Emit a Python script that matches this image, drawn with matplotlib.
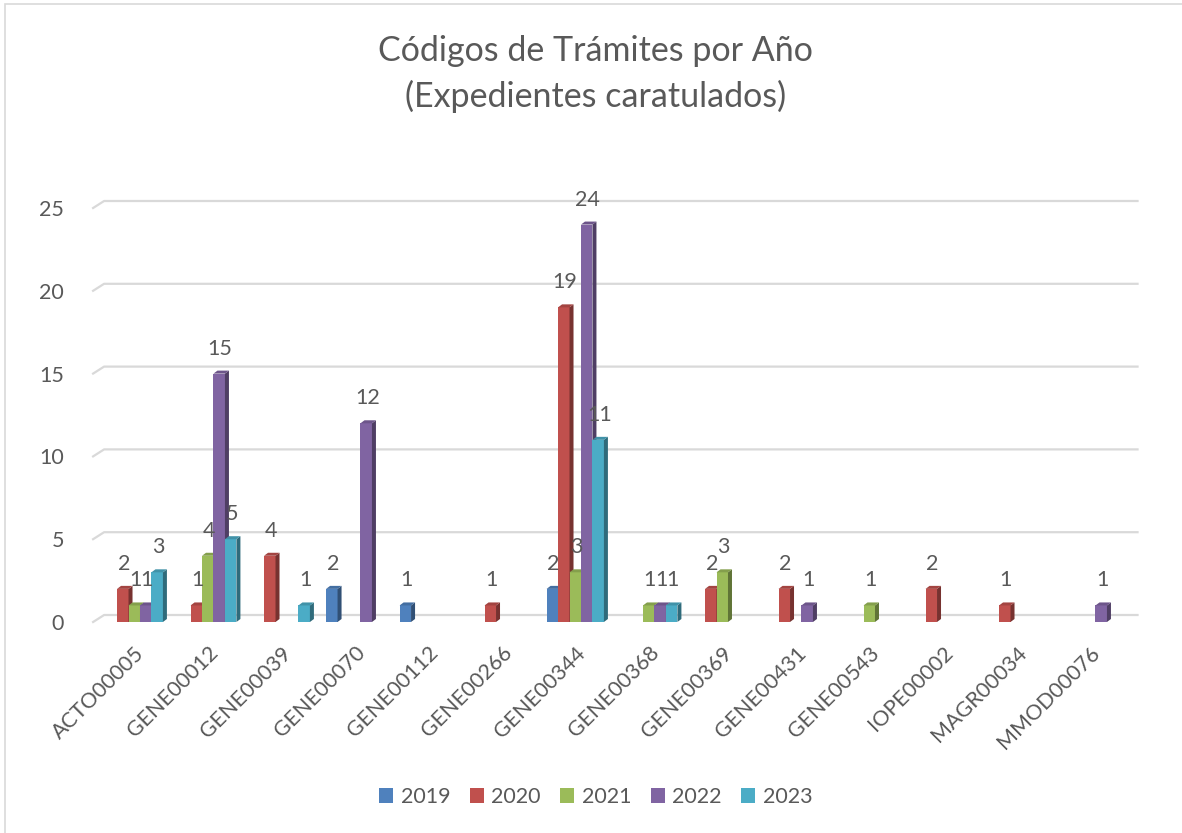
import numpy as np
import matplotlib.pyplot as plt
from matplotlib.patches import Polygon, Patch, Rectangle
from matplotlib.lines import Line2D
from matplotlib.colors import to_rgb

plt.rcParams['font.family'] = ['Lato', 'DejaVu Sans']

# ── Datos ──
codigos = ['ACTO00005', 'GENE00012', 'GENE00039', 'GENE00070', 'GENE00112',
           'GENE00266', 'GENE00344', 'GENE00368', 'GENE00369', 'GENE00431',
           'GENE00543', 'IOPE00002', 'MAGR00034', 'MMOD00076']
anios = ['2019', '2020', '2021', '2022', '2023']

v2019 = [0, 0, 0, 2, 1, 0, 2, 0, 0, 0, 0, 0, 0, 0]
v2020 = [2, 1, 4, 0, 0, 1, 19, 0, 2, 2, 0, 2, 1, 0]
v2021 = [1, 4, 0, 0, 0, 0, 3, 1, 3, 0, 1, 0, 0, 0]
v2022 = [1, 15, 0, 12, 0, 0, 24, 1, 0, 1, 0, 0, 0, 1]
v2023 = [3, 5, 1, 0, 0, 0, 11, 1, 0, 0, 0, 0, 0, 0]

series = [v2019, v2020, v2021, v2022, v2023]
colores = ['#4F81BD', '#C0504D', '#9BBB59', '#8064A2', '#4BACC6']
gris = '#595959'
fs = 15.5

W, H = 1182, 833
fig = plt.figure(figsize=(W / 100, H / 100), dpi=100)
ax_left, ax_bottom, ax_w, ax_h = 97.5 / W, 1 - 622 / H, 1029 / W, 414 / H
ax = fig.add_axes([ax_left, ax_bottom, ax_w, ax_h])

n = len(codigos)
ymax = 25
ax.set_xlim(-0.5, n - 0.5)
ax.set_ylim(0, ymax)

# pixeles por unidad, para simular la profundidad 3D
px_x = ax_w * W / n
px_y = ax_h * H / ymax
ddx, ddy = 4 / px_x, 3 / px_y        # caras de las barras
gdx, gdy = 11 / px_x, 7 / px_y       # pared del fondo (grilla)

# ── Grilla ──
for t in range(0, ymax + 1, 5):
    ax.add_line(Line2D([-0.5 - 0.06, -0.5 - 0.06 + gdx, n - 0.5 + 0.15],
                       [t, t + gdy, t + gdy], color='#d9d9d9', lw=1.6,
                       zorder=0, clip_on=False))

# ── Barras 3D ──
slot = 0.156
x = np.arange(n)
z = 2
for i in range(n):
    for k, (vals, col) in enumerate(zip(series, colores)):
        h = vals[i]
        if h == 0:
            continue
        x0 = x[i] + (k - 2.5) * slot
        x1 = x0 + slot
        rgb = np.array(to_rgb(col))
        ax.bar(x0, h, width=slot, align='edge', color=col, zorder=z,
               linewidth=0)
        ax.add_patch(Polygon([(x1, 0), (x1 + ddx, ddy), (x1 + ddx, h + ddy), (x1, h)],
                             closed=True, color=rgb * 0.62, lw=0, zorder=z,
                             clip_on=False))
        ax.add_patch(Polygon([(x0, h), (x0 + ddx, h + ddy), (x1 + ddx, h + ddy), (x1, h)],
                             closed=True, color=rgb * 0.85, lw=0, zorder=z,
                             clip_on=False))
        ax.annotate(str(h), (x0 + slot / 2, h), xytext=(1, 25),
                    textcoords='offset pixels', ha='center', va='center',
                    fontsize=fs, color=gris, zorder=50, annotation_clip=False)
        z += 1

# ── Ejes ──
for s in ax.spines.values():
    s.set_visible(False)
ax.set_yticks(range(0, ymax + 1, 5))
ax.tick_params(axis='y', length=0, pad=24, labelsize=fs, labelcolor=gris)
ax.set_xticks(x)
ax.set_xticklabels(codigos, rotation=45, ha='right', rotation_mode='anchor')
ax.tick_params(axis='x', length=0, pad=15, labelsize=fs, labelcolor=gris)
ax.patch.set_alpha(0)

# ── Titulo ──
fig.text(0.504, 1 - 74 / H, 'Códigos de Trámites por Año\n(Expedientes caratulados)',
         ha='center', va='center', fontsize=24.5, color=gris, linespacing=1.45)

# ── Leyenda ──
handles = [Patch(facecolor=c, edgecolor='none') for c in colores]
fig.legend(handles, anios, loc='center', bbox_to_anchor=(0.504, 1 - 797 / H),
           ncol=5, frameon=False, fontsize=fs, handlelength=0.65,
           handleheight=0.65, handletextpad=0.35, columnspacing=0.9,
           labelcolor=gris)

# borde del grafico
fig.patches.append(Rectangle((5 / W, -0.1), 1.2, 1.1 - 4 / H,
                             transform=fig.transFigure, fill=False,
                             edgecolor='#d9d9d9', lw=1.2))

fig.savefig('out.png', dpi=100)
